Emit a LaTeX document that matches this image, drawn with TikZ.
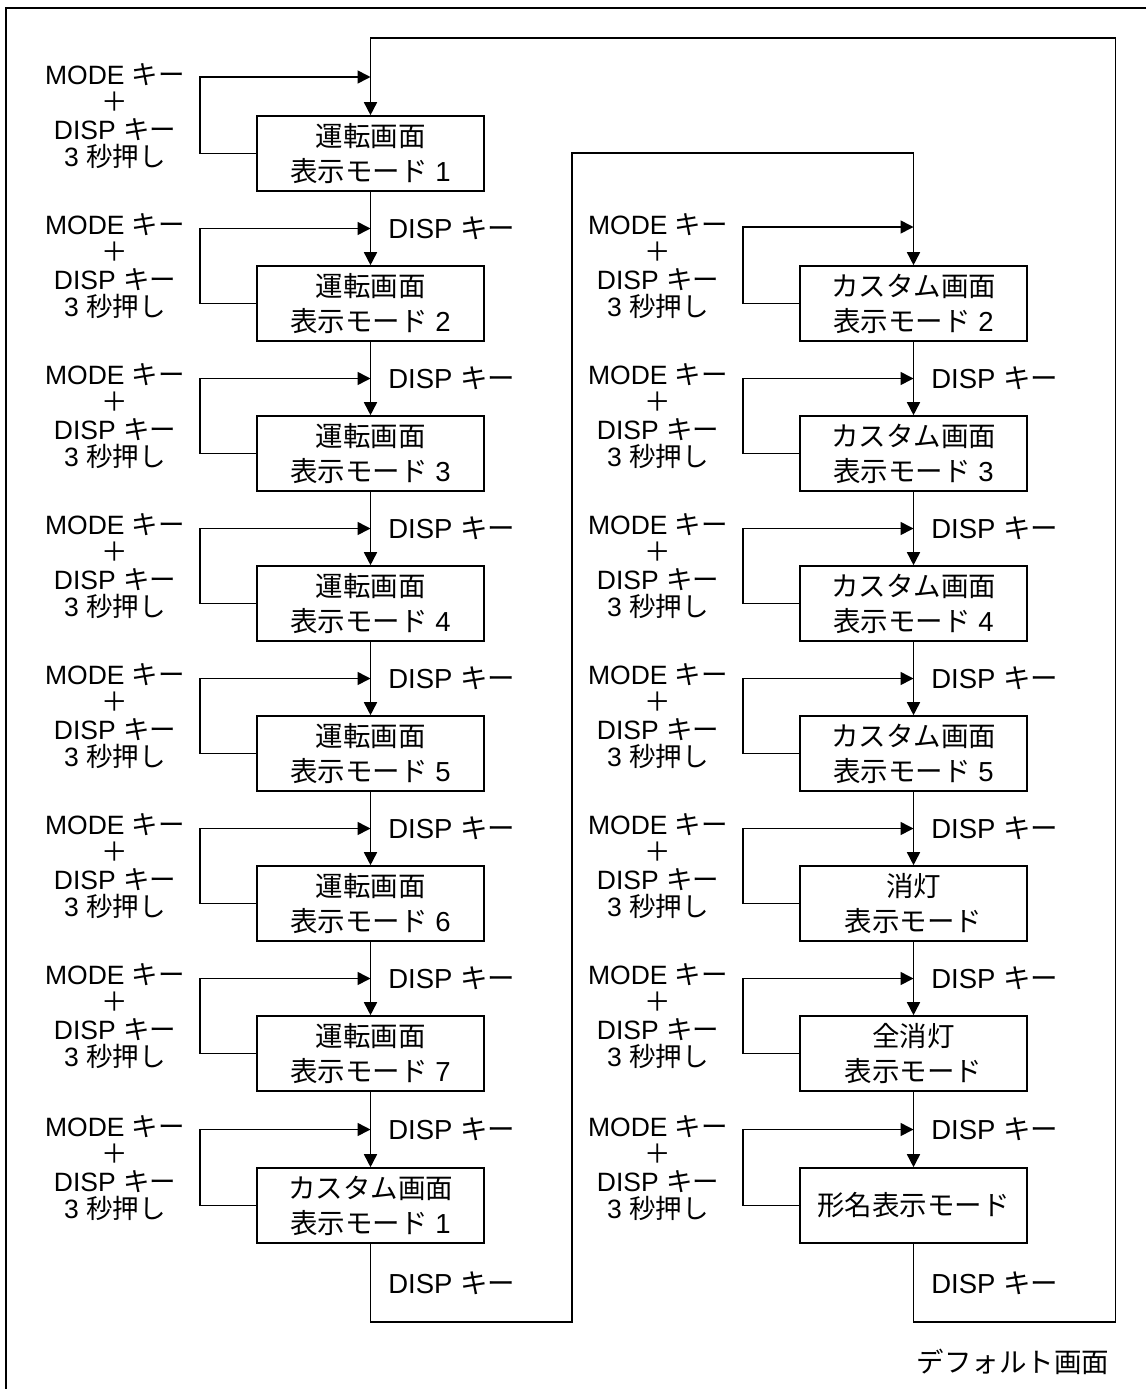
\documentclass[tikz,border=0pt]{standalone}
\usepackage{fontspec}
\setmainfont{Liberation Sans}
\newfontfamily\jpfont{Noto Sans CJK JP}
\newcommand{\jp}[1]{{\jpfont #1}}
\newcommand{\holdkeys}{MODE \jp{キー}\\\jp{＋}\\DISP \jp{キー}\\3 \jp{秒押し}}
\usetikzlibrary{arrows.meta,positioning,calc}

\begin{document}
\begin{tikzpicture}[x=1pt,y=-1pt,line width=1.6pt,
  every node/.style={font=\fontsize{27.5}{26}\selectfont,inner sep=2pt},
  scrbox/.style={draw,minimum width=227pt,minimum height=75pt,align=center,font=\fontsize{27.5}{35}\selectfont},
  keylab/.style={align=center,font=\fontsize{26.5}{27.5}\selectfont},
  flow/.style={-{Triangle[length=13pt,width=13pt]}}]
\useasboundingbox (0,0) rectangle (1146,1389);

\draw (1146,8) -- (6,8) -- (6,1389);

%%%%%%%%%%%%%%%%%%%%%%%%%%%%%%%%left column
\node[scrbox] (l1) at (370.5,153.5) {\jp{運転画面}\\\jp{表示モード} 1};
\node[scrbox] (l2) at (370.5,303.5) {\jp{運転画面}\\\jp{表示モード} 2};
\node[scrbox] (l3) at (370.5,453.5) {\jp{運転画面}\\\jp{表示モード} 3};
\node[scrbox] (l4) at (370.5,603.5) {\jp{運転画面}\\\jp{表示モード} 4};
\node[scrbox] (l5) at (370.5,753.5) {\jp{運転画面}\\\jp{表示モード} 5};
\node[scrbox] (l6) at (370.5,903.5) {\jp{運転画面}\\\jp{表示モード} 6};
\node[scrbox] (l7) at (370.5,1053.5) {\jp{運転画面}\\\jp{表示モード} 7};
\node[scrbox] (l8) at (370.5,1205.5) {\jp{カスタム画面}\\\jp{表示モード} 1};

\node[keylab] (k1) at (115,116) {\holdkeys};\node[keylab] (k2) at (115,266) {\holdkeys};
\node[keylab] (k3) at (115,416) {\holdkeys};\node[keylab] (k4) at (115,566) {\holdkeys};
\node[keylab] (k5) at (115,716) {\holdkeys};\node[keylab] (k6) at (115,866) {\holdkeys};
\node[keylab] (k7) at (115,1016) {\holdkeys};\node[keylab] (k8) at (115,1168) {\holdkeys};

\coordinate (j1) at (370.5,77);
\coordinate (j2) at ($(l1.south)!.5!(l2.north)$);\coordinate (j3) at ($(l2.south)!.5!(l3.north)$);
\coordinate (j4) at ($(l3.south)!.5!(l4.north)$);\coordinate (j5) at ($(l4.south)!.5!(l5.north)$);
\coordinate (j6) at ($(l5.south)!.5!(l6.north)$);\coordinate (j7) at ($(l6.south)!.5!(l7.north)$);
\coordinate (j8) at ($(l7.south)!.5!(l8.north)$);

\draw[flow] (l1.south) -- (l2.north);\draw[flow] (l2.south) -- (l3.north);
\draw[flow] (l3.south) -- (l4.north);\draw[flow] (l4.south) -- (l5.north);
\draw[flow] (l5.south) -- (l6.north);\draw[flow] (l6.south) -- (l7.north);
\draw[flow] (l7.south) -- (l8.north);

\draw[flow] (l1.west) -- ++(-56,0) |- (j1);\draw[flow] (l2.west) -- ++(-56,0) |- (j2);
\draw[flow] (l3.west) -- ++(-56,0) |- (j3);\draw[flow] (l4.west) -- ++(-56,0) |- (j4);
\draw[flow] (l5.west) -- ++(-56,0) |- (j5);\draw[flow] (l6.west) -- ++(-56,0) |- (j6);
\draw[flow] (l7.west) -- ++(-56,0) |- (j7);\draw[flow] (l8.west) -- ++(-56,0) |- (j8);

\node[right=15pt of j2] (d2) {DISP \jp{キー}};\node[right=15pt of j3] (d3) {DISP \jp{キー}};
\node[right=15pt of j4] (d4) {DISP \jp{キー}};\node[right=15pt of j5] (d5) {DISP \jp{キー}};
\node[right=15pt of j6] (d6) {DISP \jp{キー}};\node[right=15pt of j7] (d7) {DISP \jp{キー}};
\node[right=15pt of j8] (d8) {DISP \jp{キー}};

%%%%%%%%%%%%%%%%%%%%%%%%%%%%%%%%right column
\node[scrbox] (r2) at (913.5,303.5) {\jp{カスタム画面}\\\jp{表示モード} 2};
\node[scrbox] (r3) at (913.5,453.5) {\jp{カスタム画面}\\\jp{表示モード} 3};
\node[scrbox] (r4) at (913.5,603.5) {\jp{カスタム画面}\\\jp{表示モード} 4};
\node[scrbox] (r5) at (913.5,753.5) {\jp{カスタム画面}\\\jp{表示モード} 5};
\node[scrbox] (r6) at (913.5,903.5) {\jp{消灯}\\\jp{表示モード}};
\node[scrbox] (r7) at (913.5,1053.5) {\jp{全消灯}\\\jp{表示モード}};
\node[scrbox] (r8) at (913.5,1205.5) {\jp{形名表示モード}};

\node[keylab] (h2) at (658,266) {\holdkeys};\node[keylab] (h3) at (658,416) {\holdkeys};
\node[keylab] (h4) at (658,566) {\holdkeys};\node[keylab] (h5) at (658,716) {\holdkeys};
\node[keylab] (h6) at (658,866) {\holdkeys};\node[keylab] (h7) at (658,1016) {\holdkeys};
\node[keylab] (h8) at (658,1168) {\holdkeys};

\coordinate (q2) at (913.5,227);
\coordinate (q3) at ($(r2.south)!.5!(r3.north)$);\coordinate (q4) at ($(r3.south)!.5!(r4.north)$);
\coordinate (q5) at ($(r4.south)!.5!(r5.north)$);\coordinate (q6) at ($(r5.south)!.5!(r6.north)$);
\coordinate (q7) at ($(r6.south)!.5!(r7.north)$);\coordinate (q8) at ($(r7.south)!.5!(r8.north)$);

\draw[flow] (r2.south) -- (r3.north);\draw[flow] (r3.south) -- (r4.north);
\draw[flow] (r4.south) -- (r5.north);\draw[flow] (r5.south) -- (r6.north);
\draw[flow] (r6.south) -- (r7.north);\draw[flow] (r7.south) -- (r8.north);

\draw[flow] (r2.west) -- ++(-56,0) |- (q2);\draw[flow] (r3.west) -- ++(-56,0) |- (q3);
\draw[flow] (r4.west) -- ++(-56,0) |- (q4);\draw[flow] (r5.west) -- ++(-56,0) |- (q5);
\draw[flow] (r6.west) -- ++(-56,0) |- (q6);\draw[flow] (r7.west) -- ++(-56,0) |- (q7);
\draw[flow] (r8.west) -- ++(-56,0) |- (q8);

\node[right=15pt of q3] (e3) {DISP \jp{キー}};\node[right=15pt of q4] (e4) {DISP \jp{キー}};
\node[right=15pt of q5] (e5) {DISP \jp{キー}};\node[right=15pt of q6] (e6) {DISP \jp{キー}};
\node[right=15pt of q7] (e7) {DISP \jp{キー}};\node[right=15pt of q8] (e8) {DISP \jp{キー}};

%%%%%%%%%%%%%%%%%%%%%%%%%%%%%%%%loops back
\coordinate (mb) at (572,1322);\coordinate (mt) at (572,153);
\draw[flow] (l8.south) |- (mb) -- (mt) -| (r2.north);
\coordinate (rb) at (1115.5,1322);\coordinate (rt) at (1115.5,38);
\draw[flow] (r8.south) |- (rb) -- (rt) -| (l1.north);

\coordinate (lb) at ($(l8.south)!.5!(l8.south|-mb)$);\coordinate (rbl) at ($(r8.south)!.5!(r8.south|-rb)$);
\node[right=15pt of lb] (d9) {DISP \jp{キー}};\node[right=15pt of rbl] (e9) {DISP \jp{キー}};

\node (dflt) at (1013,1362) {\jp{デフォルト画面}};

\end{tikzpicture}
\end{document}
